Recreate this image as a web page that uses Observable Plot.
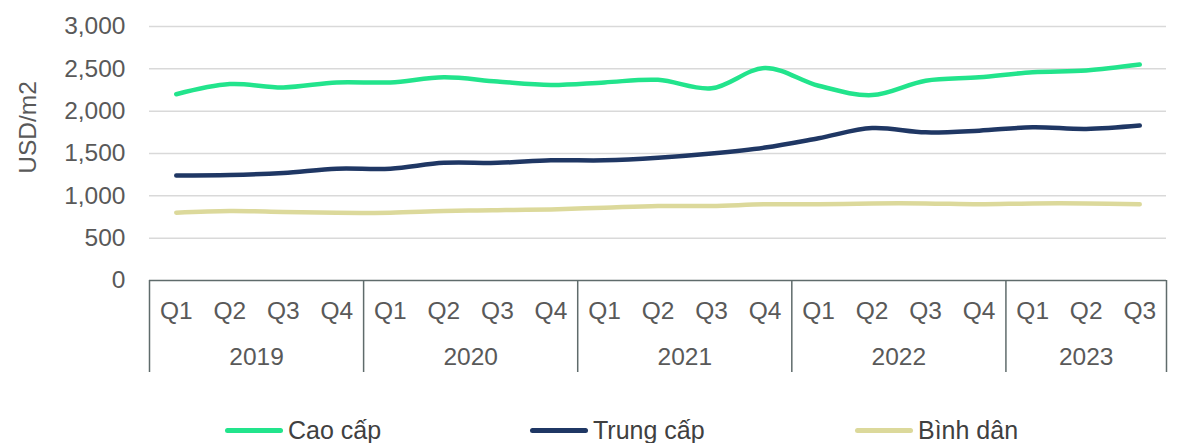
<!DOCTYPE html>
<html>
<head>
<meta charset="utf-8">
<script src="https://cdn.jsdelivr.net/npm/d3@7"></script>
<script src="https://cdn.jsdelivr.net/npm/@observablehq/plot@0.6"></script>
<style>
  body { margin: 0; background: #fff; font-family: "Liberation Sans", Arial, sans-serif; }
  #legend { height: 32px; position: relative; font-size: 25px; color: #404040; }
  .item { position: absolute; top: 0; height: 38px; display: flex; align-items: center; }
  .swatch { width: 58px; height: 5px; border-radius: 3px; margin-right: 5px; }
</style>
</head>
<body>
<div id="chart"></div>
<div id="legend"></div>
<script>
const years = ["2019", "2020", "2021", "2022", "2023"];
const quarters = ["Q1","Q2","Q3","Q4","Q1","Q2","Q3","Q4","Q1","Q2","Q3","Q4","Q1","Q2","Q3","Q4","Q1","Q2","Q3"];
const caoCap   = [2200, 2320, 2280, 2340, 2340, 2400, 2350, 2310, 2340, 2370, 2270, 2510, 2300, 2190, 2360, 2400, 2460, 2480, 2550];
const trungCap = [1240, 1245, 1270, 1320, 1320, 1390, 1390, 1420, 1420, 1450, 1500, 1570, 1680, 1800, 1750, 1770, 1810, 1790, 1830];
const binhDan  = [800, 820, 810, 800, 800, 820, 830, 840, 860, 880, 880, 900, 900, 910, 910, 900, 910, 910, 900];
const seriesNames = ["Cao cấp", "Trung cấp", "Bình dân"];
const seriesColors = ["#22e48c", "#1f3764", "#dcd99b"];
const yTicks = [0, 500, 1000, 1500, 2000, 2500, 3000];

const seriesValues = [caoCap, trungCap, binhDan];
const rows = [];
seriesValues.forEach((vals, s) => vals.forEach((v, i) => rows.push({series: seriesNames[s], i, value: v})));
const idx = quarters.map((_, i) => i);
const yearStart = years.map((_, k) => k * 4);
const yearEnd = years.map((_, k) => Math.min(k * 4 + 4, quarters.length));
const boundaries = [-0.5, ...yearEnd.map(e => e - 0.5)];
const yearCenters = years.map((_, k) => (yearStart[k] + yearEnd[k] - 1) / 2);

const textColor = "#595959";
const axisColor = "#5f6b6b";
const fs = 24.5;

const chart = Plot.plot({
  width: 1178,
  height: 411,
  marginLeft: 149,
  marginRight: 12,
  marginTop: 26,
  marginBottom: 131,
  style: { fontFamily: "'Liberation Sans', Arial, sans-serif", fontSize: fs + "px", color: textColor, background: "#fff" },
  x: { domain: [-0.5, quarters.length - 0.5], axis: null },
  y: { domain: [0, 3000], axis: null },
  color: { domain: seriesNames, range: seriesColors },
  marks: [
    Plot.ruleY(yTicks.filter(d => d > 0), { stroke: "#d9d9d9", strokeWidth: 1.5 }),
    Plot.axisY(yTicks, { tickSize: 0, tickPadding: 24, tickFormat: d3.format(","), fill: textColor, fontSize: fs, label: null }),
    Plot.text(["USD/m2"], { frameAnchor: "left", textAnchor: "middle", rotate: -90, dx: -121, dy: -26, fill: textColor, fontSize: fs }),
    Plot.lineY(rows, { x: "i", y: "value", stroke: "series", strokeWidth: 4.5, curve: "catmull-rom", z: "series" }),
    Plot.ruleY([0], { stroke: axisColor, strokeWidth: 1.5 }),
    Plot.axisX(boundaries, { tickSize: 92, tickFormat: () => "", stroke: axisColor, strokeWidth: 1.5, label: null }),
    Plot.axisX(idx, { tickSize: 0, tickPadding: 21, tickFormat: i => quarters[i], fill: textColor, fontSize: fs, label: null }),
    Plot.axisX(yearCenters, { tickSize: 0, tickPadding: 67, tickFormat: c => years[yearCenters.indexOf(c)], fill: textColor, fontSize: fs, label: null })
  ]
});
document.getElementById("chart").appendChild(chart);

const legend = document.getElementById("legend");
const lefts = [225, 530, 855];
seriesNames.forEach((n, k) => {
  const it = document.createElement("div");
  it.className = "item";
  it.style.left = lefts[k] + "px";
  it.innerHTML = `<span class="swatch" style="background:${seriesColors[k]}"></span><span>${n}</span>`;
  legend.appendChild(it);
});
</script>
</body>
</html>
